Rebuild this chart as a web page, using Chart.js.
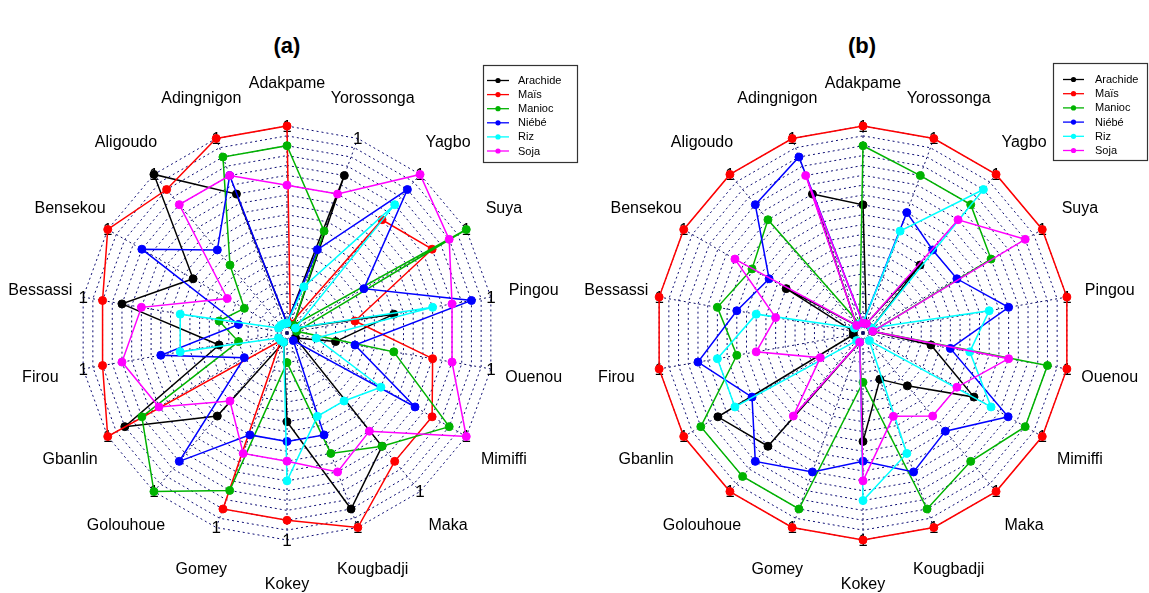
<!DOCTYPE html>
<html>
<head>
<meta charset="utf-8">
<title>Radar (a) / (b)</title>
<script src="https://cdn.jsdelivr.net/npm/chart.js@4.4.1/dist/chart.umd.min.js"></script>
<style>
  html, body { margin: 0; padding: 0; background: #ffffff; }
  body { width: 1149px; height: 593px; position: relative; overflow: hidden;
         font-family: "Liberation Sans", Arial, sans-serif; }
  canvas { position: absolute; top: 0; }
  #chartA { left: 0; }
  #chartB { left: 580px; }
  .panel-title { position: absolute; top: 33px; width: 80px; margin-left: -40px;
                 text-align: center; font-weight: bold; font-size: 22px; color: #000; }
</style>
</head>
<body>
<div class="panel-title" style="left:287px">(a)</div>
<div class="panel-title" style="left:862px">(b)</div>
<canvas id="chartA" width="580" height="593"></canvas>
<canvas id="chartB" width="569" height="593"></canvas>

<script>
// Spoke categories, clockwise from the top
const categories = ['Adakpame', 'Yorossonga', 'Yagbo', 'Suya', 'Pingou', 'Ouenou',
  'Mimiffi', 'Maka', 'Kougbadji', 'Kokey', 'Gomey', 'Golouhoue', 'Gbanlin',
  'Firou', 'Bessassi', 'Bensekou', 'Aligoudo', 'Adingnigon'];

const seriesNames = ['Arachide', 'Maïs', 'Manioc', 'Niébé', 'Riz', 'Soja'];
const seriesColors = ['#000000', '#ff0000', '#00b300', '#0000ff', '#00ffff', '#ff00ff'];

// Radial axis: a small inner offset so zero values sit just off the centre
const axisMin = -0.05;
const axisMax = 1;
const axisStep = 0.05;
const axisEndLabel = '1';

// Panel (a)
const arachideA = [0, 0.8, 0, 0, 0.5, 0.2, 0, 0.7, 0.9, 0.4, 0, 0.5, 0.9, 0.3, 0.8, 0.5, 1, 0.7];
const maisA     = [1, 0, 0.7, 0.8, 0.3, 0.7, 0.8, 0.8, 1, 0.9, 0.9, 0, 1, 0.9, 0.9, 1, 0.9, 1];
const maniocA   = [0.9, 0.5, 0, 1, 0, 0.5, 0.9, 0.7, 0.6, 0.1, 0.8, 1, 0.8, 0.2, 0.3, 0.2, 0.4, 0.9];
const niebeA    = [0, 0.4, 0.9, 0.4, 0.9, 0.3, 0.7, 0, 0.5, 0.5, 0.5, 0.8, 0.2, 0.6, 0.2, 0.8, 0.5, 0.8];
const rizA      = [0, 0.2, 0.8, 0, 0.7, 0.1, 0.5, 0.4, 0.4, 0.7, 0, 0, 0, 0.5, 0.5, 0, 0, 0];
const sojaA     = [0.7, 0.7, 1, 0.9, 0.8, 0.8, 1, 0.6, 0.7, 0.6, 0.6, 0.4, 0.7, 0.8, 0.7, 0.3, 0.8, 0.8];

// Panel (b)
const arachideB = [0.6, 0, 0.4, 0, 0, 0.3, 0.6, 0.3, 0.2, 0.5, 0, 0.7, 0.8, 0, 0, 0.4, 0, 0.7];
const maisB     = [1, 1, 1, 1, 1, 1, 1, 1, 1, 1, 1, 1, 1, 1, 1, 1, 1, 1];
const maniocB   = [0.9, 0.8, 0.8, 0.7, 0, 0.9, 0.9, 0.8, 0.9, 0.2, 0.9, 0.9, 0.9, 0.6, 0.7, 0.6, 0.7, 0];
const niebeB    = [0, 0.6, 0.5, 0.5, 0.7, 0.4, 0.8, 0.6, 0.7, 0.6, 0.7, 0.8, 0.6, 0.8, 0.6, 0.5, 0.8, 0.9];
const rizB      = [0, 0.5, 0.9, 0, 0.6, 0.5, 0.7, 0, 0.6, 0.8, 0, 0, 0.7, 0.7, 0.5, 0, 0, 0];
const sojaB     = [0, 0, 0.7, 0.9, 0, 0.7, 0.5, 0.5, 0.4, 0.7, 0, 0.5, 0.2, 0.5, 0.4, 0.7, 0, 0.8];

function makeDatasets(rows) {
  return rows.map((values, i) => ({
    label: seriesNames[i],
    data: values,
    borderColor: seriesColors[i],
    backgroundColor: seriesColors[i],
    pointBackgroundColor: seriesColors[i],
    pointBorderColor: seriesColors[i],
    borderWidth: 1.5,
    pointRadius: 4,
    pointBorderWidth: 1,
    pointHoverRadius: 4,
    fill: false,
    tension: 0,
    clip: false,
    order: -i            // later series are painted over earlier ones
  }));
}

// Axis-end "1" marks under the data, spoke names and the boxed legend on top
const radarDecor = {
  id: 'radarDecor',
  beforeDatasetsDraw(chart, args, opts) {
    const r = chart.scales.r, ctx = chart.ctx;
    const end = r.getDistanceFromCenterForValue(r.max);
    ctx.save();
    ctx.fillStyle = '#000';
    ctx.font = '17px "Liberation Sans", Arial, sans-serif';
    ctx.textAlign = 'center';
    ctx.textBaseline = 'middle';
    chart.data.labels.forEach((_, i) => {
      const p = r.getPointPosition(i, end);
      ctx.fillText(axisEndLabel, p.x, p.y + 1);
    });
    ctx.restore();
  },
  afterDraw(chart, args, opts) {
    const r = chart.scales.r, ctx = chart.ctx;
    ctx.save();
    ctx.fillStyle = '#000';
    ctx.font = '16px "Liberation Sans", Arial, sans-serif';
    ctx.textAlign = 'center';
    ctx.textBaseline = 'middle';
    const dist = r.drawingArea * opts.labelScale;
    chart.data.labels.forEach((name, i) => {
      const p = r.getPointPosition(i, dist);
      ctx.fillText(name, p.x, p.y + 1);
    });

    // legend box
    const L = opts.legend;
    ctx.fillStyle = '#ffffff';
    ctx.fillRect(L.x, L.y, L.w, L.h);
    ctx.strokeStyle = '#333333';
    ctx.lineWidth = 1.2;
    ctx.strokeRect(L.x + 0.5, L.y + 0.5, L.w, L.h);
    ctx.font = '11px "Liberation Sans", Arial, sans-serif';
    ctx.textAlign = 'left';
    chart.data.datasets.forEach((ds, i) => {
      const y = L.y + L.row0 + i * L.rowGap;
      ctx.strokeStyle = ds.borderColor;
      ctx.lineWidth = 1.3;
      ctx.beginPath();
      ctx.moveTo(L.x + L.lineFrom, y);
      ctx.lineTo(L.x + L.lineTo, y);
      ctx.stroke();
      ctx.fillStyle = ds.borderColor;
      ctx.beginPath();
      ctx.arc(L.x + (L.lineFrom + L.lineTo) / 2, y, 2.6, 0, Math.PI * 2);
      ctx.fill();
      ctx.fillStyle = '#000';
      ctx.fillText(ds.label, L.x + L.textX, y + 0.5);
    });
    ctx.restore();
  }
};

function makeChart(id, rows, padding, legend) {
  return new Chart(document.getElementById(id), {
    type: 'radar',
    data: { labels: categories, datasets: makeDatasets(rows) },
    plugins: [radarDecor],
    options: {
      responsive: false,
      animation: false,
      events: [],
      layout: { padding: padding },
      elements: { line: { tension: 0 } },
      scales: {
        r: {
          min: axisMin,
          max: axisMax,
          ticks: { display: false, stepSize: axisStep },
          pointLabels: { display: false },
          grid: { color: 'rgb(12,12,115)', lineWidth: 1, borderDash: [2, 3] },
          border: { dash: [2, 3] },
          angleLines: { display: true, color: 'rgb(12,12,100)', lineWidth: 1, borderDash: [2, 3] }
        }
      },
      plugins: {
        legend: { display: false },
        tooltip: { enabled: false },
        radarDecor: { labelScale: 1.21, legend: legend }
      }
    }
  });
}

makeChart('chartA',
  [arachideA, maisA, maniocA, niebeA, rizA, sojaA],
  { left: 80, right: 86, top: 126, bottom: 53 },
  { x: 483, y: 65, w: 94, h: 97, row0: 15.5, rowGap: 14.1, lineFrom: 4, lineTo: 26, textX: 35 });

makeChart('chartB',
  [arachideB, maisB, maniocB, niebeB, rizB, sojaB],
  { left: 76, right: 79, top: 126, bottom: 53 },
  { x: 473, y: 63, w: 94, h: 97, row0: 16.5, rowGap: 14.2, lineFrom: 10, lineTo: 31, textX: 42 });
</script>
</body>
</html>
